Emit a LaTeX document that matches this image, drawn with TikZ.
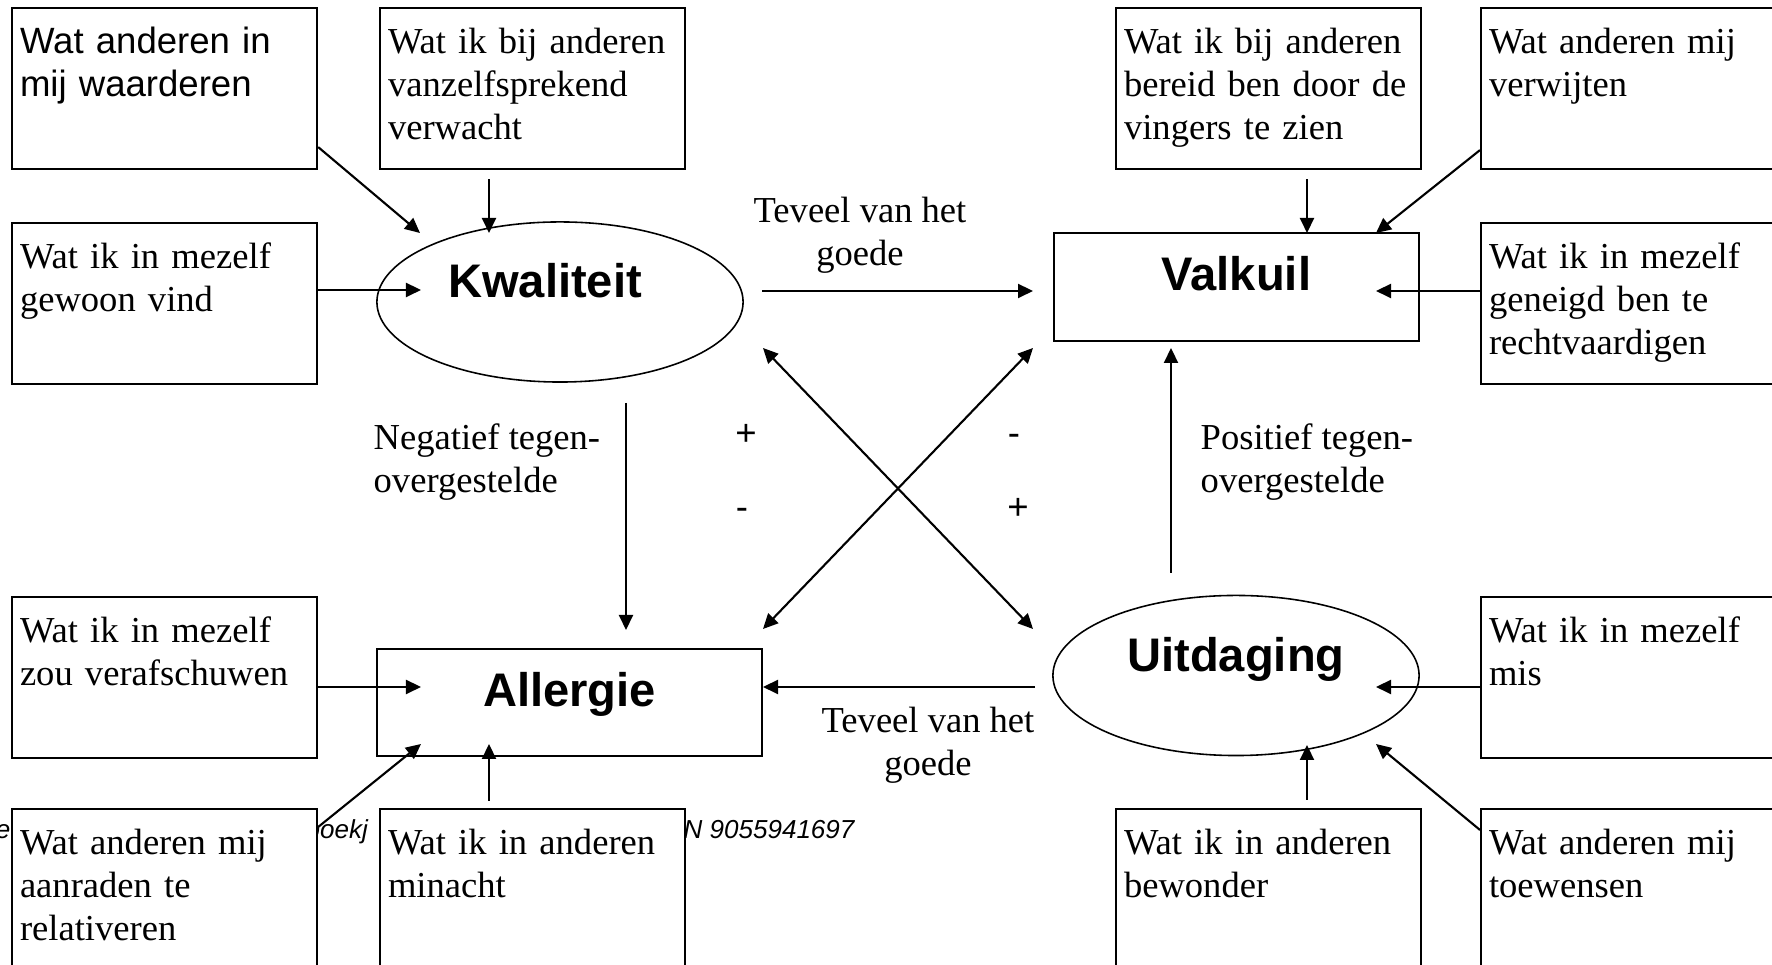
\documentclass[tikz,border=0pt]{standalone}
\usepackage{fontspec}
\setmainfont{Liberation Serif}
\setsansfont{Liberation Sans}
\usepackage{tikz}
\usetikzlibrary{calc, shapes.geometric, arrows.meta}

\newcommand{\vaktekst}{\fontsize{10.4pt}{12.25pt}\selectfont}
\newcommand{\kerntekst}{\fontsize{13.4pt}{16pt}\selectfont\sffamily\bfseries}
\newcommand{\noottekst}{\fontsize{7.4pt}{9pt}\selectfont\sffamily\itshape}

\begin{document}
\begin{tikzpicture}[x=0.01cm, y=-0.01cm,
    >={Triangle[length=0.15cm, width=0.14cm]},
    vak/.style={draw, fill=white, line width=0.57pt, anchor=north west,
        inner xsep=0.08cm, inner ysep=0pt, text width=2.89cm, align=left,
        text height=0.45cm, text depth=1.16cm, font=\vaktekst},
    kern/.style={draw, ellipse, line width=0.45pt, minimum width=3.66cm,
        minimum height=1.6cm, inner sep=0pt, text height=0.34cm,
        text depth=0.42cm, font=\kerntekst},
    kader/.style={draw, rectangle, line width=0.57pt, inner sep=0pt,
        text height=0.34cm, text depth=0.26cm, font=\kerntekst},
    pijl/.style={->, line width=0.6pt},
    bij/.style={font=\vaktekst, inner sep=0pt, anchor=base},
    teken/.style={font=\vaktekst\sffamily, inner sep=0pt, anchor=base}]

    \useasboundingbox (0,0) rectangle (1772,965);
    \clip (0,0) rectangle (1772,965);

    % bronvermelding, grotendeels achter de vakken
    \node[font=\noottekst, inner sep=0pt, anchor=base east] (bron1) at (11,839) {e};
    \node[font=\noottekst, inner sep=0pt, anchor=base west] (bron2) at (305,839) {boekj};
    \node[font=\noottekst, inner sep=0pt, anchor=base west] (bron3) at (683,839) {N 9055941697};

    % de vier kernen
    \node[kern] (kw) at (560,302) {Kwaliteit\hbox to 0.3cm{}};
    \node[kader, minimum width=3.65cm, minimum height=1.08cm] (vk) at (1236.5,287) {Valkuil};
    \node[kader, minimum width=3.85cm, minimum height=1.07cm] (ag) at (569.5,702.5) {Allergie};
    \node[kern] (ud) at (1236,675.5) {Uitdaging};

    % vakken rond Kwaliteit en Valkuil
    \node[vak, font=\vaktekst\sffamily] (ta1) at (11,7) {Wat anderen in\\mij waarderen};
    \node[vak] (ta2) at (379,7) {Wat ik bij anderen\\vanzelfsprekend\\verwacht};
    \node[vak] (ta3) at (11,222) {Wat ik in mezelf\\gewoon vind};
    \node[vak] (tv1) at (1115,7) {Wat ik bij anderen\\bereid ben door de\\vingers te zien};
    \node[vak] (tv2) at (1480,7) {Wat anderen mij\\verwijten};
    \node[vak] (tv3) at (1480,222) {Wat ik in mezelf\\geneigd ben te\\rechtvaardigen};

    % vakken rond Allergie en Uitdaging
    \node[vak] (al1) at (11,596) {Wat ik in mezelf\\zou verafschuwen};
    \node[vak] (al2) at (11,808) {Wat anderen mij\\aanraden te\\relativeren};
    \node[vak] (al3) at (379,808) {Wat ik in anderen\\minacht};
    \node[vak] (ui1) at (1480,596) {Wat ik in mezelf\\mis};
    \node[vak] (ui2) at (1115,808) {Wat ik in anderen\\bewonder};
    \node[vak] (ui3) at (1480,808) {Wat anderen mij\\toewensen};

    % eindpunten van de pijlen in de kernen
    \coordinate (kw-a) at ($(kw)+(-140,-69)$);
    \coordinate (kw-b) at ($(kw)+(-71,-69)$);
    \coordinate (kw-c) at ($(kw)+(-139,-12)$);
    \coordinate (vk-a) at ($(vk)+(70.5,-54)$);
    \coordinate (vk-b) at ($(vk)+(139.5,-54)$);
    \coordinate (vk-c) at ($(vk)+(139.5,4)$);
    \coordinate (ag-a) at ($(ag)+(-148.5,-15.5)$);
    \coordinate (ag-b) at ($(ag)+(-148.5,41.5)$);
    \coordinate (ag-c) at ($(ag)+(-80.5,41.5)$);
    \coordinate (ud-a) at ($(ud)+(140,11.5)$);
    \coordinate (ud-b) at ($(ud)+(71,69.5)$);
    \coordinate (ud-c) at ($(ud)+(140,68.5)$);

    % pijlen van de vakken
    \draw[pijl] ($(ta1.south east)+(0,-23)$) -- (kw-a);
    \draw[pijl] ($(ta2.south -| kw-b)+(0,9)$) -- (kw-b);
    \draw[pijl] (ta3.east |- kw-c) -- (kw-c);
    \draw[pijl] ($(tv1.south -| vk-a)+(0,9)$) -- (vk-a);
    \draw[pijl] ($(tv2.south west)+(0,-20)$) -- (vk-b);
    \draw[pijl] (tv3.west |- vk-c) -- (vk-c);
    \draw[pijl] (al1.east |- ag-a) -- (ag-a);
    \draw[pijl] ($(al2.north east)+(0,19)$) -- (ag-b);
    \draw[pijl] ($(al3.north -| ag-c)+(0,-7)$) -- (ag-c);
    \draw[pijl] (ui1.west |- ud-a) -- (ud-a);
    \draw[pijl] ($(ui2.north -| ud-b)+(0,-8)$) -- (ud-b);
    \draw[pijl] ($(ui3.north west)+(0,22)$) -- (ud-c);

    % pijlen tussen de kernen
    \draw[pijl] ($(kw)+(202,-11)$) -- ($(vk)+(-203.5,4)$);
    \draw[pijl] ($(ud)+(-201,11.5)$) -- ($(ag)+(193.5,-15.5)$);
    \draw[pijl] ($(kw)+(66,101)$) -- ($(ag)+(56.5,-72.5)$);
    \draw[pijl] ($(ud)+(-65,-102.5)$) -- ($(vk)+(-65.5,61)$);
    \draw[pijl, <->] ($(kw)+(203,46)$) -- ($(ud)+(-203,-46.5)$);
    \draw[pijl, <->] ($(ag)+(193.5,-73.5)$) -- ($(vk)+(-203.5,61)$);

    % teksten bij de pijlen (base = laatste regel)
    \node[bij, align=center] (teveel1) at (860,266) {Teveel van het\\goede};
    \node[bij, align=center] (teveel2) at (928,776) {Teveel van het\\goede};
    \node[bij, align=left, anchor=base west] (negatief) at (373,493) {Negatief tegen-\\overgestelde};
    \node[bij, align=left, anchor=base west] (positief) at (1200,493) {Positief tegen-\\overgestelde};
    \node[teken] (plus1) at (746,446) {+};
    \node[teken] (min1) at (742,520) {-};
    \node[teken] (min2) at (1014,446) {-};
    \node[teken] (plus2) at (1018,520) {+};
\end{tikzpicture}
\end{document}
